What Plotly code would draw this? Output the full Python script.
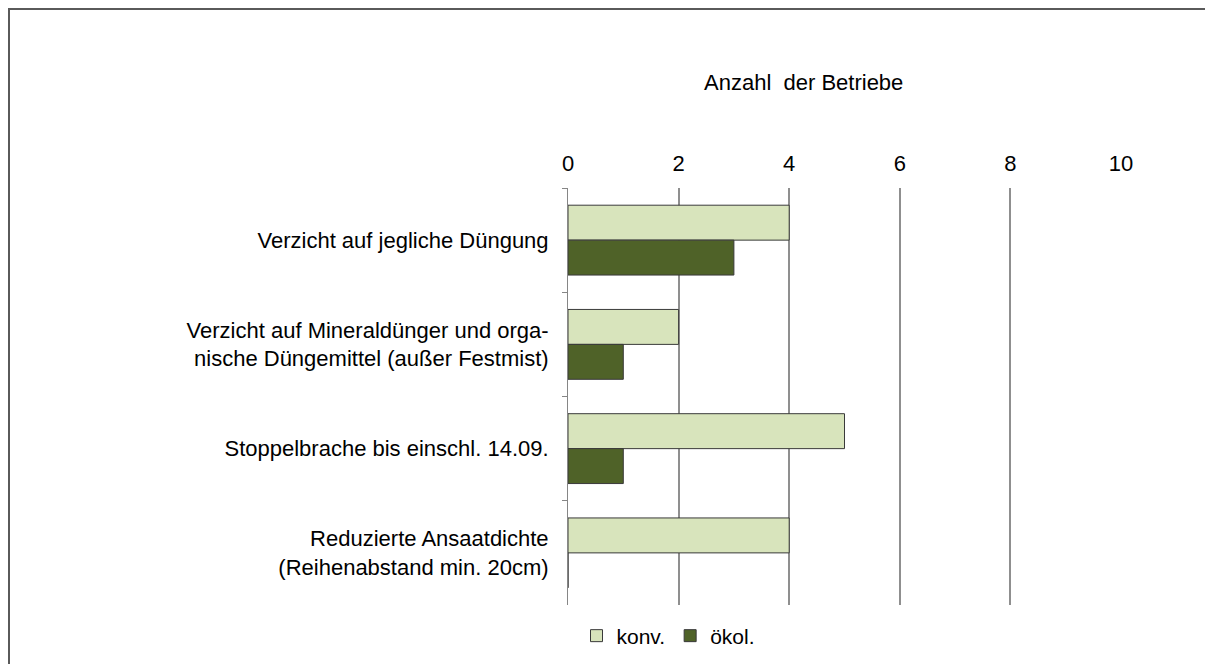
import plotly.graph_objects as go

categories = [
    "Verzicht auf jegliche Düngung",
    "Verzicht auf Mineraldünger und orga-<br>nische Düngemittel (außer Festmist)",
    "Stoppelbrache bis einschl. 14.09.",
    "Reduzierte Ansaatdichte<br>(Reihenabstand min. 20cm)",
]
konv = [4, 2, 5, 4]
oekol = [3, 1, 1, 0]
tick_vals = [0, 2, 4, 6, 8, 10]

# page is shown with an 8px body margin, so figure pixel = screen pixel - 8
OFF = 8
L, R, T, B = 568 - OFF, 1213 - (1121 - OFF), 188 - OFF, 664 - (605 - OFF)
W, H = 1213, 664
pw, ph = W - L - R, H - T - B
FONT = "Liberation Sans, Arial"
FS = 22

fig = go.Figure()
fig.add_trace(go.Bar(
    y=categories, x=konv, orientation="h", name="konv.",
    marker=dict(color="#d8e4bc", line=dict(color="#3a3a3a", width=1)),
))
fig.add_trace(go.Bar(
    y=categories, x=oekol, orientation="h", name="ökol.",
    marker=dict(color="#4f6228", line=dict(color="#3a3a3a", width=1)),
))

fig.update_xaxes(
    range=[0, 10], side="top", tickvals=tick_vals,
    showgrid=True, gridcolor="#8f8f8f", gridwidth=2,
    zeroline=False, showline=False,
    tickfont=dict(family=FONT, size=FS, color="#000"),
    ticklabelstandoff=12,
)
fig.update_yaxes(
    autorange="reversed", showline=True, linecolor="#868686", linewidth=1,
    ticks="outside", tickson="boundaries", ticklen=5, tickcolor="#868686",
    tickfont=dict(family=FONT, size=FS, color="#000"),
    ticklabelstandoff=14,
)


def px_x(x):
    return (x - OFF - L) / pw


def px_y(y):
    return (H - B - (y - OFF)) / ph


fig.add_annotation(
    text="Anzahl  der Betriebe", x=px_x(803), y=px_y(82), xref="paper", yref="paper",
    xanchor="center", yanchor="middle",
    showarrow=False, font=dict(family=FONT, size=FS, color="#000"),
)

# outer frame (top and left edges visible)
fig.add_shape(type="line", xref="paper", yref="paper",
              x0=px_x(OFF + 1), x1=px_x(1221), y0=px_y(OFF + 1), y1=px_y(OFF + 1),
              line=dict(color="#5a5a5a", width=2))
fig.add_shape(type="line", xref="paper", yref="paper",
              x0=px_x(OFF + 1), x1=px_x(OFF + 1), y0=px_y(OFF), y1=px_y(672),
              line=dict(color="#5a5a5a", width=2))

fig.update_layout(
    width=W, height=H,
    margin=dict(l=L, r=R, t=T, b=B),
    barmode="group", bargap=0.33, bargroupgap=0,
    plot_bgcolor="white", paper_bgcolor="white",
    showlegend=True,
    legend=dict(
        orientation="h", x=px_x(668), y=px_y(636), xanchor="center", yanchor="middle",
        font=dict(family=FONT, size=FS - 1, color="#000"),
        itemwidth=30, tracegroupgap=0,
    ),
    font=dict(family=FONT),
)

fig.write_html("out.html")
